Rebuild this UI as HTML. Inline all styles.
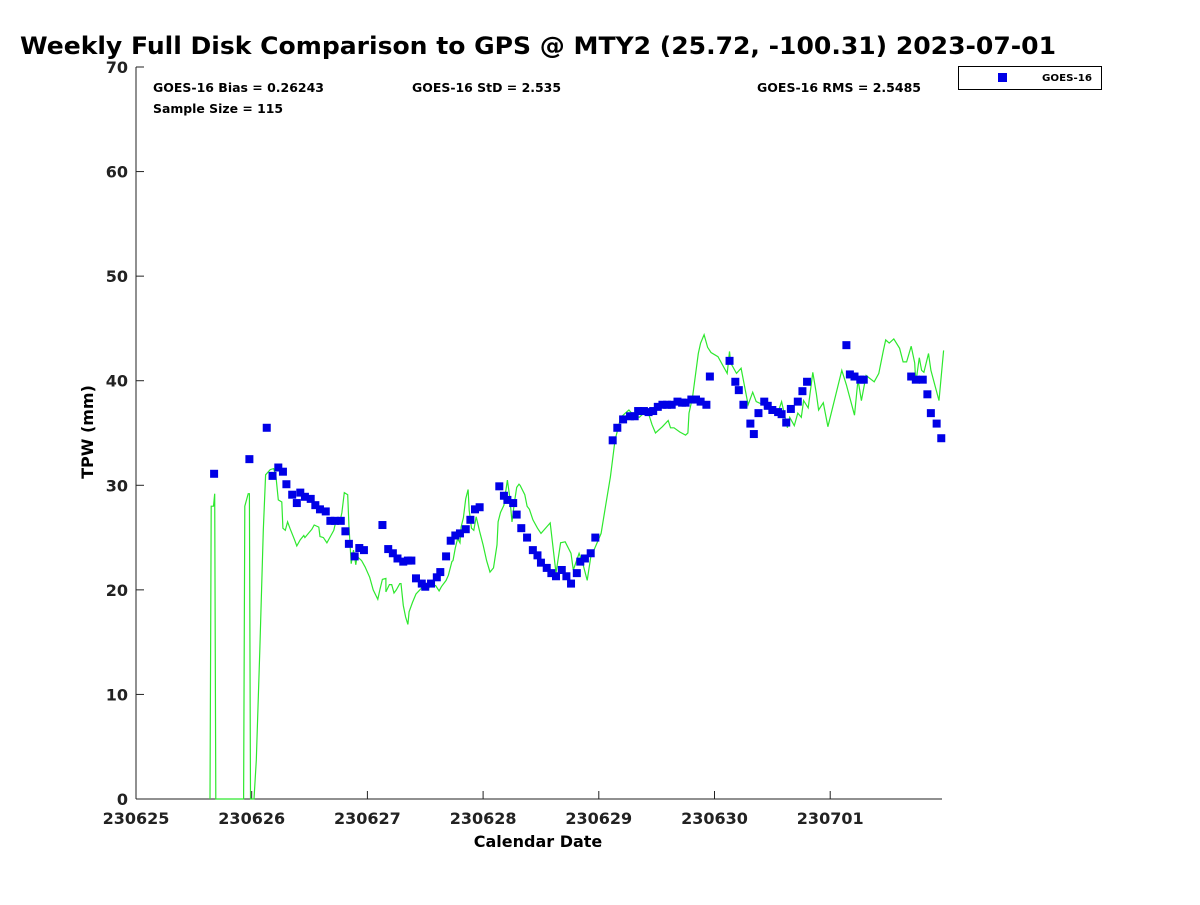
<!DOCTYPE html>
<html><head><meta charset="utf-8"><style>
body{margin:0;background:#fff;}
svg text{font-family:"DejaVu Sans","Liberation Sans",sans-serif;font-weight:bold;}
</style></head><body>
<svg id="chart" width="1200" height="900" viewBox="0 0 1200 900" xmlns="http://www.w3.org/2000/svg">
<rect width="1200" height="900" fill="#fff"/>
<text x="20" y="54" font-size="24" textLength="1036" lengthAdjust="spacingAndGlyphs">Weekly Full Disk Comparison to GPS @ MTY2 (25.72, -100.31) 2023-07-01</text>
<text x="153" y="92" font-size="12" textLength="171" lengthAdjust="spacingAndGlyphs">GOES-16 Bias = 0.26243</text>
<text x="412" y="92" font-size="12" textLength="149" lengthAdjust="spacingAndGlyphs">GOES-16 StD = 2.535</text>
<text x="757" y="92" font-size="12" textLength="164" lengthAdjust="spacingAndGlyphs">GOES-16 RMS = 2.5485</text>
<text x="153" y="113" font-size="12" textLength="130" lengthAdjust="spacingAndGlyphs">Sample Size = 115</text>
<g>
<rect x="958.5" y="66.5" width="143" height="23" fill="#fff" stroke="#000" stroke-width="1"/>
<rect x="998" y="73" width="9" height="9" fill="#0000e6"/>
<text x="1042" y="81" font-size="10" textLength="50" lengthAdjust="spacingAndGlyphs">GOES-16</text>
</g>
<text transform="translate(93,432) rotate(-90)" text-anchor="middle" font-size="16">TPW (mm)</text>
<text x="538" y="847" text-anchor="middle" font-size="16">Calendar Date</text>
<g id="axes"></g>
<g id="marks"></g>
</svg>
<script>
const xTickLabels=["230625","230626","230627","230628","230629","230630","230701"];
const yTickValues=[0,10,20,30,40,50,60,70];
const gpsDays=[0.64,0.65,0.67,0.68,0.69,0.93,0.94,0.97,0.98,0.99,1.02,1.04,1.07,1.10,1.12,1.16,1.19,1.21,1.23,1.26,1.27,1.29,1.31,1.33,1.37,1.39,1.42,1.45,1.46,1.49,1.52,1.54,1.58,1.59,1.62,1.65,1.68,1.71,1.72,1.75,1.77,1.78,1.80,1.83,1.84,1.86,1.88,1.90,1.91,1.95,1.98,2.02,2.05,2.09,2.11,2.13,2.16,2.16,2.19,2.21,2.23,2.25,2.28,2.29,2.31,2.33,2.35,2.36,2.39,2.42,2.47,2.52,2.55,2.59,2.62,2.64,2.68,2.70,2.73,2.74,2.76,2.78,2.80,2.81,2.83,2.85,2.87,2.88,2.90,2.92,2.94,2.97,3.00,3.03,3.06,3.09,3.12,3.13,3.15,3.18,3.19,3.21,3.23,3.25,3.27,3.29,3.31,3.32,3.36,3.38,3.40,3.43,3.47,3.50,3.58,3.63,3.67,3.71,3.76,3.78,3.83,3.86,3.90,3.93,3.97,4.02,4.06,4.10,4.14,4.19,4.23,4.26,4.30,4.35,4.39,4.42,4.46,4.49,4.55,4.60,4.62,4.65,4.70,4.75,4.77,4.78,4.81,4.86,4.88,4.91,4.94,4.97,5.03,5.11,5.13,5.14,5.19,5.23,5.29,5.33,5.36,5.46,5.55,5.58,5.63,5.65,5.69,5.72,5.75,5.77,5.81,5.85,5.88,5.90,5.94,5.98,6.10,6.14,6.21,6.24,6.27,6.31,6.38,6.42,6.46,6.48,6.51,6.55,6.60,6.63,6.66,6.70,6.73,6.74,6.77,6.79,6.81,6.85,6.87,6.94,6.98];
const gpsValues=[0,28.0,28.0,29.2,0,0,28.0,29.2,29.2,0,0,3.7,14.2,25.7,31.0,31.5,31.6,30.8,28.6,28.4,25.9,25.7,26.5,25.9,24.8,24.2,24.8,25.2,25.0,25.4,25.8,26.2,26.0,25.1,25.0,24.5,25.1,25.7,26.2,26.6,26.9,27.4,29.3,29.1,26.2,22.5,23.8,22.4,23.2,22.8,22.2,21.2,20.0,19.1,20.1,21.0,21.1,19.8,20.5,20.5,19.7,20.0,20.6,20.6,18.5,17.4,16.7,17.9,18.8,19.6,20.2,20.0,20.5,20.4,19.9,20.3,20.9,21.4,22.7,22.8,24.0,24.9,24.5,26.0,26.9,28.7,29.6,27.6,25.9,25.7,27.0,25.6,24.3,22.8,21.7,22.1,24.3,26.5,27.4,28.1,29.0,30.5,28.9,26.5,28.3,29.8,30.1,30.0,29.1,28.0,27.7,26.7,25.9,25.4,26.4,21.6,24.5,24.6,23.5,21.9,23.5,22.6,20.9,23.1,24.1,25.4,28.1,30.8,34.3,36.5,36.9,37.2,36.7,36.5,36.9,37.2,35.8,35.0,35.6,36.2,35.5,35.5,35.1,34.8,35.0,36.9,38.4,42.6,43.6,44.4,43.2,42.7,42.3,40.7,42.8,41.7,40.7,41.2,37.7,38.9,38.0,37.5,37.0,38.0,35.5,36.5,35.7,36.9,36.5,38.1,37.4,40.8,38.8,37.2,37.9,35.6,41.0,39.6,36.7,40.1,38.1,40.5,39.9,40.7,42.9,43.9,43.6,44.0,43.1,41.8,41.8,43.3,41.7,39.8,42.2,41.0,40.8,42.6,41.0,38.1,42.9];
const goesDays=[0.675,0.98,1.13,1.18,1.23,1.27,1.30,1.35,1.39,1.42,1.46,1.51,1.55,1.59,1.64,1.68,1.72,1.77,1.81,1.84,1.89,1.93,1.97,2.13,2.18,2.22,2.26,2.31,2.35,2.38,2.42,2.47,2.50,2.55,2.60,2.63,2.68,2.72,2.76,2.80,2.85,2.89,2.93,2.97,3.14,3.18,3.21,3.26,3.29,3.33,3.38,3.43,3.47,3.50,3.55,3.59,3.63,3.68,3.72,3.76,3.81,3.84,3.88,3.93,3.97,4.12,4.16,4.21,4.27,4.31,4.34,4.39,4.43,4.47,4.51,4.55,4.59,4.63,4.68,4.72,4.75,4.80,4.84,4.88,4.93,4.96,5.13,5.18,5.21,5.25,5.31,5.34,5.38,5.43,5.46,5.50,5.55,5.58,5.62,5.66,5.72,5.76,5.80,6.14,6.17,6.21,6.26,6.29,6.70,6.74,6.80,6.84,6.87,6.92,6.96];
const goesValues=[31.1,32.5,35.5,30.9,31.7,31.3,30.1,29.1,28.3,29.3,28.9,28.7,28.1,27.7,27.5,26.6,26.6,26.6,25.6,24.4,23.2,24.0,23.8,26.2,23.9,23.5,23.0,22.7,22.8,22.8,21.1,20.6,20.3,20.6,21.2,21.7,23.2,24.7,25.2,25.4,25.8,26.7,27.7,27.9,29.9,29.0,28.6,28.3,27.2,25.9,25.0,23.8,23.3,22.6,22.1,21.6,21.3,21.9,21.3,20.6,21.6,22.7,23.0,23.5,25.0,34.3,35.5,36.3,36.6,36.6,37.1,37.1,37.0,37.1,37.5,37.7,37.7,37.7,38.0,37.9,37.9,38.2,38.2,38.0,37.7,40.4,41.9,39.9,39.1,37.7,35.9,34.9,36.9,38.0,37.6,37.2,37.0,36.8,36.0,37.3,38.0,39.0,39.9,43.4,40.6,40.4,40.1,40.1,40.4,40.1,40.1,38.7,36.9,35.9,34.5];

const NS='http://www.w3.org/2000/svg';
const L=136,R=942,T=67,B=799,DAYPX=115.7;
const xScale=d=>L+d*DAYPX;
const yScale=v=>B-v*(B-T)/70;
const axes=document.getElementById('axes'),marks=document.getElementById('marks');
function mk(tag,attrs,parent){const e=document.createElementNS(NS,tag);for(const k in attrs)e.setAttribute(k,attrs[k]);parent.appendChild(e);return e;}
const yAxis=mk('line',{x1:L,y1:T,x2:L,y2:B,stroke:'#222','stroke-width':1},axes);


const xAxis=mk('line',{x1:L,y1:B,x2:R,y2:B,stroke:'#222','stroke-width':1},axes);


yTickValues.forEach(v=>{
  const y=yScale(v);
  mk('line',{x1:L,y1:y,x2:L+8,y2:y,stroke:'#222'},axes);
  const t=mk('text',{x:L-8,y:y+6,'text-anchor':'end','font-size':16,fill:'#222'},axes);
  t.textContent=v;
  
  
});
xTickLabels.forEach((lab,i)=>{
  const x=xScale(i);
  mk('line',{x1:x,y1:B,x2:x,y2:B-8,stroke:'#222'},axes);
  const t=mk('text',{x:x,y:B+25,'text-anchor':'middle','font-size':16,fill:'#222'},axes);
  t.textContent=lab;
  
  
});
const pts=gpsDays.map((d,i)=>xScale(d).toFixed(1)+','+yScale(gpsValues[i]).toFixed(1)).join(' ');
const line=mk('polyline',{points:pts,fill:'none',stroke:'#2ee82e','stroke-width':1.2},marks);


goesDays.forEach((d,i)=>{
  const r=mk('rect',{x:xScale(d)-4,y:yScale(goesValues[i])-4,width:8,height:8,fill:'#0000e6'},marks);
  
  
});
</script>
</body></html>
